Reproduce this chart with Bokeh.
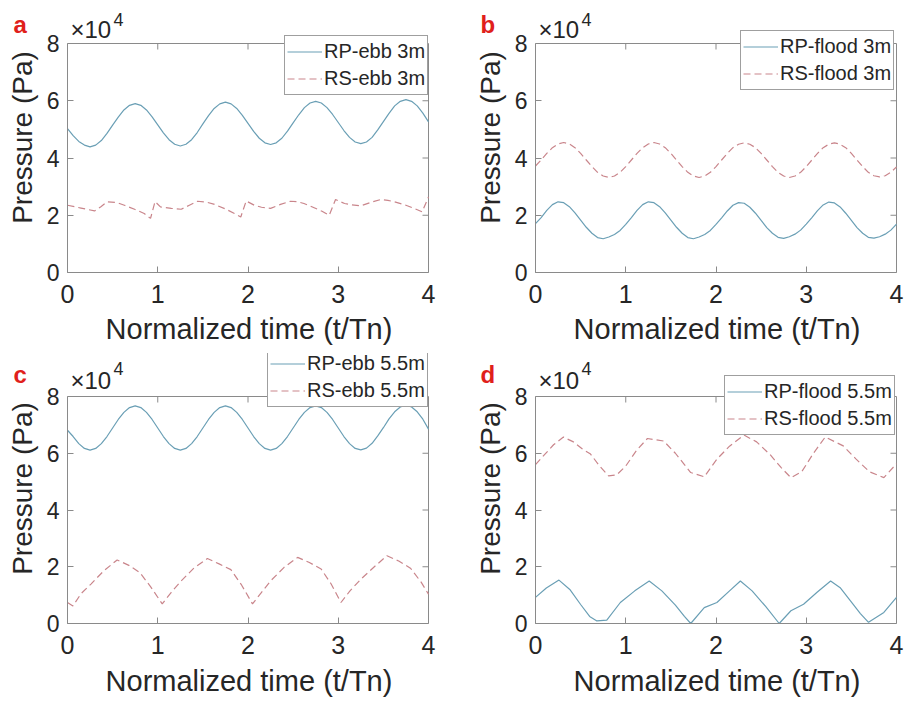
from bokeh.plotting import figure
from bokeh.models import FixedTicker, Range1d, Label, Legend, LegendItem
from bokeh.layouts import column, row
from bokeh.embed import file_html
from bokeh.resources import INLINE

# pressure values in units of 10^4 Pa, time normalized t/Tn
T16 = [0.0, 0.0625, 0.125, 0.1875, 0.25, 0.3125, 0.375, 0.4375, 0.5, 0.5625, 0.625, 0.6875, 0.75, 0.8125, 0.875, 0.9375,
       1.0, 1.0625, 1.125, 1.1875, 1.25, 1.3125, 1.375, 1.4375, 1.5, 1.5625, 1.625, 1.6875, 1.75, 1.8125, 1.875, 1.9375,
       2.0, 2.0625, 2.125, 2.1875, 2.25, 2.3125, 2.375, 2.4375, 2.5, 2.5625, 2.625, 2.6875, 2.75, 2.8125, 2.875, 2.9375,
       3.0, 3.0625, 3.125, 3.1875, 3.25, 3.3125, 3.375, 3.4375, 3.5, 3.5625, 3.625, 3.6875, 3.75, 3.8125, 3.875, 3.9375,
       4.0]

p_a_rp = [5.03, 4.78, 4.58, 4.45, 4.39, 4.45, 4.61, 4.86, 5.15, 5.43, 5.68, 5.84, 5.90, 5.84, 5.68, 5.44,
          5.16, 4.88, 4.64, 4.48, 4.42, 4.48, 4.64, 4.89, 5.19, 5.48, 5.73, 5.89, 5.95, 5.89, 5.73, 5.49,
          5.21, 4.93, 4.69, 4.53, 4.47, 4.53, 4.69, 4.94, 5.23, 5.51, 5.76, 5.92, 5.98, 5.92, 5.76, 5.52,
          5.24, 4.96, 4.72, 4.56, 4.50, 4.56, 4.72, 4.98, 5.27, 5.56, 5.82, 5.98, 6.04, 5.98, 5.82, 5.57,
          5.26]
t_a_rs = [0.00, 0.15, 0.30, 0.37, 0.44, 0.55, 0.63, 0.75, 0.85, 0.92, 0.97, 1.03, 1.15, 1.26, 1.35, 1.44, 1.55, 1.62,
          1.75, 1.85, 1.92, 1.98, 2.07, 2.15, 2.25, 2.36, 2.47, 2.55, 2.62, 2.72, 2.82, 2.90, 2.97, 3.07, 3.15, 3.25,
          3.36, 3.47, 3.55, 3.62, 3.74, 3.84, 3.93, 4.00]
p_a_rs = [2.35, 2.25, 2.15, 2.30, 2.47, 2.44, 2.35, 2.20, 2.06, 1.89, 2.48, 2.29, 2.24, 2.21, 2.35, 2.49, 2.45, 2.39,
          2.22, 2.06, 1.94, 2.50, 2.35, 2.28, 2.24, 2.38, 2.49, 2.47, 2.41, 2.28, 2.14, 2.00, 2.55, 2.41, 2.36, 2.33,
          2.45, 2.55, 2.52, 2.47, 2.36, 2.24, 2.12, 2.64]

p_b_rp = [1.71, 1.92, 2.17, 2.37, 2.47, 2.44, 2.30, 2.08, 1.83, 1.58, 1.37, 1.22, 1.18, 1.24, 1.33, 1.47,
          1.68, 1.92, 2.17, 2.37, 2.47, 2.44, 2.30, 2.08, 1.83, 1.58, 1.37, 1.22, 1.18, 1.24, 1.33, 1.47,
          1.68, 1.91, 2.15, 2.35, 2.44, 2.42, 2.28, 2.07, 1.82, 1.57, 1.37, 1.23, 1.19, 1.25, 1.34, 1.48,
          1.69, 1.92, 2.16, 2.36, 2.46, 2.43, 2.29, 2.07, 1.82, 1.57, 1.37, 1.23, 1.20, 1.25, 1.34, 1.48,
          1.69]
p_b_rs = [3.72, 3.93, 4.16, 4.36, 4.49, 4.54, 4.49, 4.36, 4.16, 3.93, 3.70, 3.50, 3.37, 3.32, 3.37, 3.50,
          3.70, 3.93, 4.16, 4.36, 4.49, 4.54, 4.49, 4.36, 4.16, 3.93, 3.70, 3.50, 3.37, 3.32, 3.37, 3.50,
          3.70, 3.93, 4.16, 4.36, 4.48, 4.53, 4.48, 4.36, 4.16, 3.93, 3.70, 3.50, 3.37, 3.32, 3.37, 3.50,
          3.70, 3.93, 4.16, 4.36, 4.48, 4.53, 4.48, 4.36, 4.16, 3.93, 3.70, 3.50, 3.38, 3.34, 3.38, 3.50,
          3.69]

p_c_rp = [6.81, 6.59, 6.34, 6.17, 6.11, 6.17, 6.34, 6.59, 6.89, 7.19, 7.44, 7.61, 7.67, 7.61, 7.44, 7.19,
          6.89, 6.59, 6.34, 6.17, 6.11, 6.17, 6.34, 6.59, 6.89, 7.19, 7.44, 7.61, 7.67, 7.61, 7.44, 7.19,
          6.89, 6.59, 6.34, 6.17, 6.11, 6.17, 6.34, 6.59, 6.89, 7.19, 7.44, 7.61, 7.67, 7.61, 7.44, 7.19,
          6.89, 6.59, 6.34, 6.17, 6.12, 6.18, 6.35, 6.61, 6.90, 7.21, 7.46, 7.63, 7.69, 7.63, 7.46, 7.20,
          6.85]
t_c_rs = [0.00, 0.06, 0.15, 0.26, 0.40, 0.55, 0.68, 0.80, 0.92, 1.05, 1.15, 1.26, 1.40, 1.55, 1.68, 1.81, 1.93,
          2.05, 2.15, 2.25, 2.40, 2.55, 2.68, 2.81, 2.92, 3.03, 3.13, 3.25, 3.40, 3.54, 3.67, 3.80, 3.92, 4.00]
p_c_rs = [0.74, 0.62, 1.05, 1.39, 1.85, 2.24, 2.05, 1.80, 1.30, 0.69, 1.10, 1.50, 1.95, 2.29, 2.10, 1.90, 1.35,
          0.69, 1.10, 1.50, 1.98, 2.33, 2.15, 1.92, 1.40, 0.74, 1.15, 1.56, 2.00, 2.39, 2.20, 1.95, 1.45, 1.03]

t_d_rp = [0.00, 0.12, 0.26, 0.38, 0.50, 0.60, 0.68, 0.79, 0.94, 1.10, 1.26, 1.40, 1.55, 1.65, 1.72, 1.87, 2.01,
          2.15, 2.27, 2.40, 2.55, 2.70, 2.83, 2.97, 3.12, 3.27, 3.38, 3.49, 3.60, 3.69, 3.86, 4.00]
p_d_rp = [0.92, 1.25, 1.53, 1.20, 0.67, 0.25, 0.09, 0.12, 0.74, 1.15, 1.50, 1.15, 0.65, 0.25, 0.00, 0.56, 0.74,
          1.15, 1.50, 1.15, 0.60, 0.00, 0.45, 0.68, 1.10, 1.50, 1.25, 0.80, 0.35, 0.04, 0.39, 0.92]
t_d_rs = [0.00, 0.10, 0.20, 0.31, 0.42, 0.52, 0.61, 0.71, 0.81, 0.90, 1.00, 1.12, 1.24, 1.42, 1.55, 1.65, 1.72,
          1.87, 2.01, 2.15, 2.31, 2.45, 2.60, 2.72, 2.83, 2.95, 3.08, 3.21, 3.41, 3.55, 3.70, 3.86, 4.00]
p_d_rs = [5.60, 5.95, 6.30, 6.57, 6.40, 6.15, 5.97, 5.55, 5.20, 5.24, 5.55, 6.10, 6.52, 6.43, 6.00, 5.60, 5.32,
          5.17, 5.79, 6.25, 6.64, 6.40, 5.95, 5.50, 5.14, 5.35, 6.00, 6.57, 6.26, 5.80, 5.35, 5.14, 5.63]

x_ticks = [0, 1, 2, 3, 4]
y_ticks = [0, 2, 4, 6, 8]
X_MAX = 4
Y_MAX = 8
x_label = "Normalized time (t/Tn)"
y_label = "Pressure (Pa)"
panel_letters = ["a", "b", "c", "d"]
multiplier = "\u00d710"
exponent = "4"

BLUE = "#6a9fb5"
RED = "#c9858b"
AX = "#8a8a8a"
TXT = "#262626"
FONT = "Liberation Sans"


def panel(t1, p1, n1, t2, p2, n2, w, h, bl, bt, box_w, box_h, frame_w, frame_h, leg_xy, xs, xl,
          mult_dy, exp_dy):
    x_end = X_MAX * frame_w / box_w
    y_end = Y_MAX * frame_h / box_h
    px_x = X_MAX / box_w   # data units per pixel
    px_y = Y_MAX / box_h
    p = figure(width=w, height=h, output_backend="svg", toolbar_location=None,
               x_range=Range1d(0, x_end), y_range=Range1d(0, y_end),
               min_border_left=bl, min_border_right=w - bl - frame_w,
               min_border_top=bt, min_border_bottom=h - bt - frame_h,
               background_fill_color="white", border_fill_color="white")
    p.grid.visible = False
    p.outline_line_color = None
    for ax in (p.xaxis[0], p.yaxis[0]):
        ax.axis_line_color = AX
        ax.major_tick_line_color = AX
        ax.major_tick_in = 6
        ax.major_tick_out = 0
        ax.minor_tick_line_color = None
        ax.major_label_text_color = TXT
        ax.axis_label_text_color = TXT
        ax.axis_label_text_font_style = "normal"
    p.xaxis.bounds = (0, X_MAX)
    p.yaxis.bounds = (0, Y_MAX)
    p.xaxis.ticker = FixedTicker(ticks=x_ticks)
    p.yaxis.ticker = FixedTicker(ticks=y_ticks)
    p.xaxis.axis_label = x_label
    p.yaxis.axis_label = y_label
    p.xaxis.major_label_text_font = FONT
    p.xaxis.major_label_text_font_size = "25px"
    p.xaxis.major_label_standoff = xs
    p.xaxis.axis_label_text_font = FONT
    p.xaxis.axis_label_text_font_size = "29px"
    p.xaxis.axis_label_standoff = xl
    p.yaxis.major_label_text_font = FONT
    p.yaxis.major_label_text_font_size = "23px"
    p.yaxis.major_label_standoff = 8
    p.yaxis.axis_label_text_font = FONT
    p.yaxis.axis_label_text_font_size = "28px"
    p.yaxis.axis_label_standoff = 6
    # box (top and right edges) with inward ticks, as in the original
    p.quad(left=[0], right=[X_MAX], bottom=[0], top=[Y_MAX], fill_color=None, line_color=AX, line_width=1)
    tx = x_ticks[1:-1]
    ty = y_ticks[1:-1]
    p.segment(x0=tx, y0=[Y_MAX] * len(tx), x1=tx, y1=[Y_MAX - 6 * px_y] * len(tx),
              line_color=AX, line_width=1)
    p.segment(x0=[X_MAX] * len(ty), y0=ty, x1=[X_MAX - 6 * px_x] * len(ty), y1=ty,
              line_color=AX, line_width=1)
    r1 = p.line(t1, p1, line_color=BLUE, line_width=1.2)
    r2 = p.line(t2, p2, line_color=RED, line_width=1.2, line_dash="7 4")
    leg = Legend(items=[LegendItem(label=n1, renderers=[r1]), LegendItem(label=n2, renderers=[r2])],
                 location=leg_xy, label_text_font=FONT, label_text_font_size="20px",
                 label_text_color=TXT, glyph_width=35, glyph_height=27, label_height=27,
                 label_standoff=2, padding=2, spacing=0, margin=0,
                 border_line_color="#404040", border_line_width=1,
                 background_fill_color="white", background_fill_alpha=1.0)
    p.add_layout(leg, "center")
    # the "x10^4" multiplier just above the top-left corner of the box
    p.add_layout(Label(x=3 * px_x, y=Y_MAX + mult_dy * px_y, text=multiplier, text_color=TXT,
                       text_font=FONT, text_font_size="24px", text_baseline="alphabetic"))
    p.add_layout(Label(x=46 * px_x, y=Y_MAX + exp_dy * px_y, text=exponent, text_color=TXT,
                       text_font=FONT, text_font_size="18px", text_baseline="alphabetic"))
    return p


# page has no margin; top row y 0..352 (plot boxes 43..272), bottom row y 352..704 (boxes 396..623)
pa = panel(T16, p_a_rp, "RP-ebb 3m", t_a_rs, p_a_rs, "RS-ebb 3m",
           452, 352, 67, 2, 361, 229, 363, 270, (217, 177), 12, 7, 14, 24)
pb = panel(T16, p_b_rp, "RP-flood 3m", T16, p_b_rs, "RS-flood 3m",
           452, 352, 83, 2, 361, 229, 363, 270, (205, 182), 12, 7, 14, 24)
pc = panel(T16, p_c_rp, "RP-ebb 5.5m", t_c_rs, p_c_rs, "RS-ebb 5.5m",
           452, 352, 67, 1, 361, 227, 363, 270, (200, 216), 12, 8, 16, 28)
pd = panel(t_d_rp, p_d_rp, "RP-flood 5.5m", t_d_rs, p_d_rs, "RS-flood 5.5m",
           452, 352, 83, 1, 361, 227, 363, 270, (189, 188), 12, 8, 16, 28)

# transparent overlay in page pixel coordinates for the red panel letters
ov = figure(width=904, height=704, output_backend="svg", toolbar_location=None,
            x_range=Range1d(0, 904), y_range=Range1d(704, 0),
            x_axis_type=None, y_axis_type=None, min_border=0,
            background_fill_alpha=0, border_fill_alpha=0)
ov.grid.visible = False
ov.outline_line_color = None
ov.margin = (-704, 0, 0, 0)
letter_pos = [(13, 24), (480, 24), (13, 374), (480, 374)]
for letter, (lx, ly) in zip(panel_letters, letter_pos):
    ov.add_layout(Label(x=lx, y=ly, text=letter, text_color="#e0201b", text_font=FONT,
                        text_font_style="bold", text_font_size="24px", text_baseline="alphabetic"))

layout = column(row(pa, pb, spacing=0), row(pc, pd, spacing=0), ov, spacing=0)
open("out.html", "w").write(file_html(layout, INLINE))
